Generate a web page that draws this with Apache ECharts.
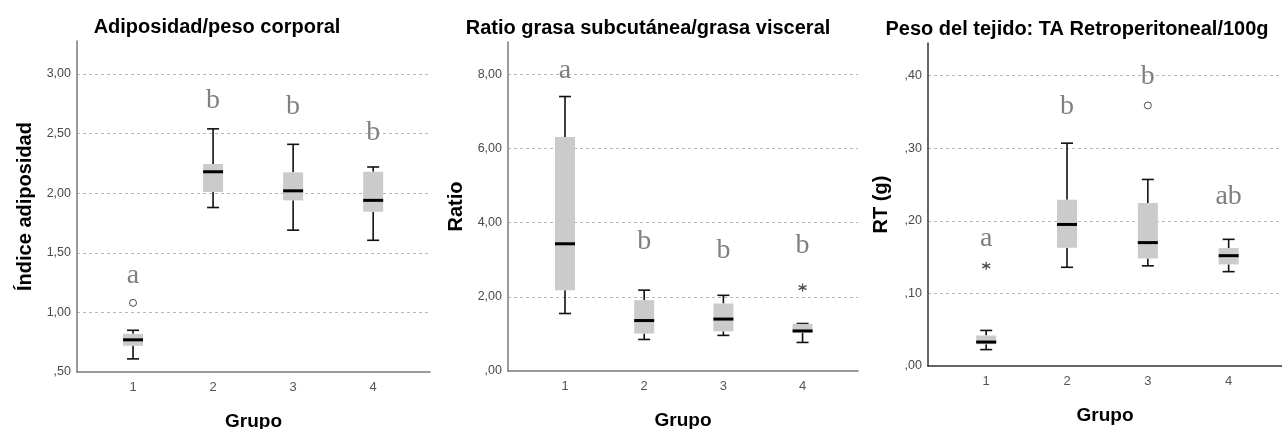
<!DOCTYPE html>
<html>
<head>
<meta charset="utf-8">
<title>Grupos</title>
<script src="https://cdn.jsdelivr.net/npm/echarts@6/dist/echarts.min.js"></script>
<style>
  html, body { margin: 0; padding: 0; background: #fff; }
  #main { width: 1282px; height: 429px; }
</style>
</head>
<body>
<div id="main"></div>
<script>
// grupos (eje X)
var grupos = [1, 2, 3, 4];

// Adiposidad/peso corporal
var adipMin = [0.61, 1.88, 1.69, 1.605];
var adipQ1  = [0.72, 2.01, 1.94, 1.845];
var adipMed = [0.77, 2.18, 2.02, 1.94];
var adipQ3  = [0.82, 2.245, 2.175, 2.18];
var adipMax = [0.85, 2.54, 2.41, 2.22];
var adipAtipicos = [[1, 1.08]];
var adipExtremos = [];
var adipLetras = ['a', 'b', 'b', 'b'];
var adipLetraY = [1.31, 2.78, 2.73, 2.51];

// Ratio grasa subcutanea/grasa visceral
var ratioMin = [1.55, 0.85, 0.96, 0.77];
var ratioQ1  = [2.18, 1.01, 1.07, 1.03];
var ratioMed = [3.43, 1.36, 1.40, 1.08];
var ratioQ3  = [6.31, 1.91, 1.82, 1.27];
var ratioMax = [7.40, 2.18, 2.04, 1.28];
var ratioAtipicos = [];
var ratioExtremos = [[4, 2.25]];
var ratioLetras = ['a', 'b', 'b', 'b'];
var ratioLetraY = [8.09, 3.48, 3.25, 3.39];

// Peso del tejido: TA Retroperitoneal/100g
var rtMin = [0.0226, 0.136, 0.138, 0.130];
var rtQ1  = [0.030, 0.163, 0.148, 0.140];
var rtMed = [0.033, 0.195, 0.170, 0.152];
var rtQ3  = [0.042, 0.229, 0.2245, 0.1625];
var rtMax = [0.049, 0.307, 0.257, 0.1745];
var rtAtipicos = [[3, 0.359]];
var rtExtremos = [[1, 0.138]];
var rtLetras = ['a', 'b', 'b', 'ab'];
var rtLetraY = [0.176, 0.358, 0.399, 0.233];

var fuente = '"Liberation Sans", Arial, sans-serif';

var paneles = [
  {
    titulo: 'Adiposidad/peso corporal', tituloX: 217, tituloY: 17,
    nombreY: 'Índice adiposidad', gapY: 42,
    grid: {left: 77, top: 41, width: 353, height: 331},
    xMin: 0.3, xMax: 4.71, yMin: 0.5, yMax: 3.277, yPaso: 0.5,
    ejeColor: '#7a7a7a',
    min: adipMin, q1: adipQ1, med: adipMed, q3: adipQ3, max: adipMax,
    atipicos: adipAtipicos, extremos: adipExtremos, letras: adipLetras, letraY: adipLetraY
  },
  {
    titulo: 'Ratio grasa subcutánea/grasa visceral', tituloX: 648, tituloY: 18,
    nombreY: 'Ratio', gapY: 42,
    grid: {left: 508, top: 42, width: 350, height: 329},
    xMin: 0.28, xMax: 4.7, yMin: 0, yMax: 8.87, yPaso: 2,
    ejeColor: '#7a7a7a',
    min: ratioMin, q1: ratioQ1, med: ratioMed, q3: ratioQ3, max: ratioMax,
    atipicos: ratioAtipicos, extremos: ratioExtremos, letras: ratioLetras, letraY: ratioLetraY
  },
  {
    titulo: 'Peso del tejido: TA Retroperitoneal/100g', tituloX: 1077, tituloY: 19,
    nombreY: 'RT (g)', gapY: 37,
    grid: {left: 928, top: 43, width: 354, height: 323},
    xMin: 0.28, xMax: 4.66, yMin: 0, yMax: 0.445, yPaso: 0.1,
    ejeColor: '#333',
    min: rtMin, q1: rtQ1, med: rtMed, q3: rtQ3, max: rtMax,
    atipicos: rtAtipicos, extremos: rtExtremos, letras: rtLetras, letraY: rtLetraY
  }
];

function etiquetaY(v) {
  var s = v.toFixed(2).replace('.', ',');
  if (s.charAt(0) === '0') s = s.slice(1);
  return s;
}

function etiquetaX(v) {
  return Math.abs(v - Math.round(v)) < 1e-6 ? String(Math.round(v)) : '';
}

// caja estilo SPSS
function renderCaja(params, api) {
  var x = api.value(0);
  var lo = api.coord([x, api.value(1)]);
  var q1 = api.coord([x, api.value(2)]);
  var md = api.coord([x, api.value(3)]);
  var q3 = api.coord([x, api.value(4)]);
  var hi = api.coord([x, api.value(5)]);
  var cx = lo[0], bw = 20, cw = 12;
  var linea = {stroke: '#111', lineWidth: 1.6};
  return {
    type: 'group',
    children: [
      {type: 'line', shape: {x1: cx, y1: hi[1], x2: cx, y2: q3[1]}, style: linea},
      {type: 'line', shape: {x1: cx, y1: q1[1], x2: cx, y2: lo[1]}, style: linea},
      {type: 'line', shape: {x1: cx - cw / 2, y1: hi[1], x2: cx + cw / 2, y2: hi[1]}, style: linea},
      {type: 'line', shape: {x1: cx - cw / 2, y1: lo[1], x2: cx + cw / 2, y2: lo[1]}, style: linea},
      {type: 'rect', shape: {x: cx - bw / 2, y: q3[1], width: bw, height: q1[1] - q3[1]}, style: {fill: '#cbcbcb'}},
      {type: 'line', shape: {x1: cx - bw / 2, y1: md[1], x2: cx + bw / 2, y2: md[1]}, style: {stroke: '#000', lineWidth: 3}}
    ]
  };
}

var asterisco = 'path://M5,0L5,10M0.7,2.5L9.3,7.5M0.7,7.5L9.3,2.5';

var titulos = [], grids = [], ejesX = [], ejesY = [], series = [];

paneles.forEach(function (p, i) {
  titulos.push({
    text: p.titulo, left: p.tituloX, top: p.tituloY, textAlign: 'center', padding: 0,
    textStyle: {fontSize: 20, fontWeight: 'bold', color: '#000', fontFamily: fuente}
  });
  var g = p.grid;
  grids.push({left: g.left, top: g.top, width: g.width, height: g.height,
    containLabel: false, outerBoundsMode: 'none'});
  ejesX.push({
    type: 'value', gridIndex: i, min: p.xMin, max: p.xMax, interval: 0.02,
    name: 'Grupo', nameLocation: 'middle', nameGap: 40,
    nameTextStyle: {fontSize: 19, fontWeight: 'bold', color: '#000', fontFamily: fuente},
    axisLine: {onZero: false, lineStyle: {color: p.ejeColor, width: 1.5}},
    axisTick: {show: false},
    splitLine: {show: false},
    axisLabel: {formatter: etiquetaX, fontSize: 13, color: '#555', fontFamily: fuente, margin: 9}
  });
  ejesY.push({
    type: 'value', gridIndex: i, min: p.yMin, max: p.yMax, interval: p.yPaso,
    name: p.nombreY, nameLocation: 'middle', nameGap: p.gapY,
    nameTextStyle: {fontSize: 20, fontWeight: 'bold', color: '#000', fontFamily: fuente},
    axisLine: {show: true, onZero: false, lineStyle: {color: p.ejeColor, width: 1.5}},
    axisTick: {show: false},
    splitLine: {show: true, showMinLine: false, showMaxLine: false, lineStyle: {color: '#b8b8b8', type: [3, 3], width: 1}},
    axisLabel: {formatter: etiquetaY, showMaxLabel: false, fontSize: 12.5, color: '#4a4a4a', fontFamily: fuente, margin: 6}
  });

  var cajas = grupos.map(function (gr, k) {
    return [gr, p.min[k], p.q1[k], p.med[k], p.q3[k], p.max[k]];
  });
  series.push({
    type: 'custom', xAxisIndex: i, yAxisIndex: i, silent: true,
    renderItem: renderCaja, encode: {x: 0, y: [1, 2, 3, 4, 5]}, data: cajas, z: 2
  });
  series.push({
    type: 'scatter', xAxisIndex: i, yAxisIndex: i, silent: true,
    symbol: 'circle', symbolSize: 7, data: p.atipicos, z: 3,
    itemStyle: {color: '#fff', borderColor: '#222', borderWidth: 1}
  });
  series.push({
    type: 'scatter', xAxisIndex: i, yAxisIndex: i, silent: true,
    symbol: asterisco, symbolSize: 8, data: p.extremos, z: 3,
    itemStyle: {color: 'none', borderColor: '#222', borderWidth: 1.3}
  });
  var letras = p.letras;
  series.push({
    type: 'custom', xAxisIndex: i, yAxisIndex: i, silent: true, z: 4,
    data: grupos.map(function (gr, k) { return [gr, p.letraY[k]]; }),
    renderItem: function (params, api) {
      var c = api.coord([api.value(0), api.value(1)]);
      return {
        type: 'text', x: c[0], y: c[1],
        style: {
          text: letras[params.dataIndex], fill: '#808080',
          font: '28px "Liberation Serif", "Times New Roman", serif',
          align: 'center', verticalAlign: 'middle'
        }
      };
    }
  });
});

var chart = echarts.init(document.getElementById('main'));
chart.setOption({
  backgroundColor: '#fff',
  animation: false,
  title: titulos,
  grid: grids,
  xAxis: ejesX,
  yAxis: ejesY,
  series: series
});
</script>
</body>
</html>
